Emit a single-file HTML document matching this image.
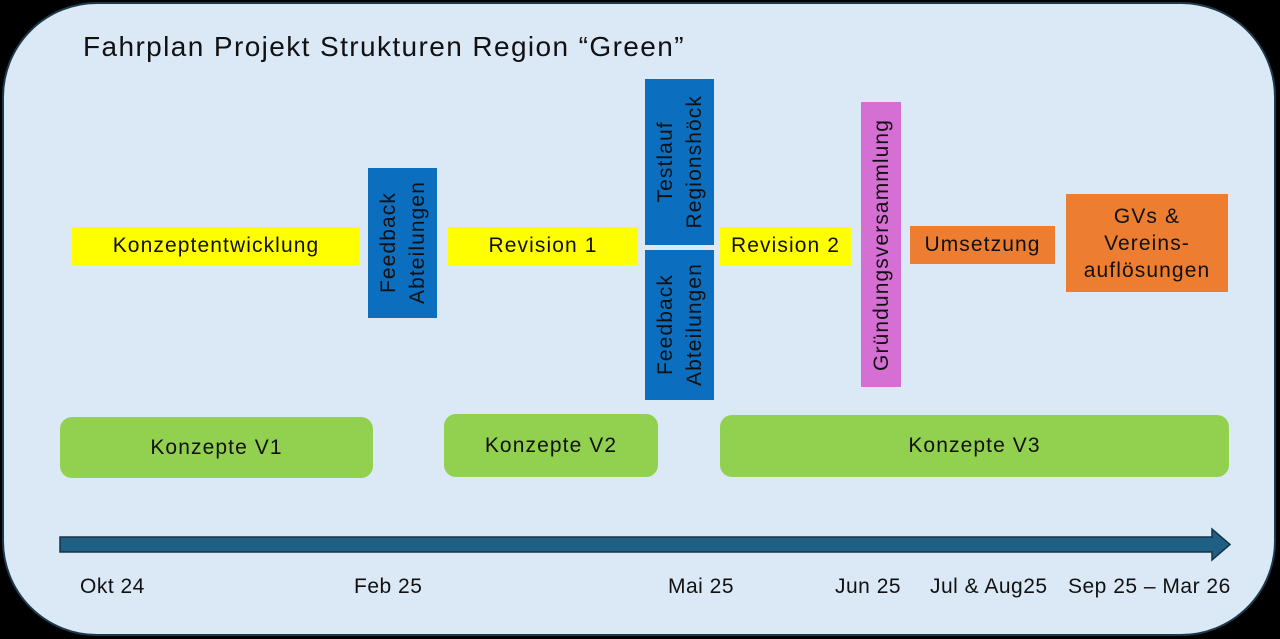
<!DOCTYPE html>
<html><head><meta charset="utf-8"><style>
body{margin:0;width:1280px;height:639px;background:#000;overflow:hidden;font-family:"Liberation Sans",sans-serif;color:#111}
.card{position:absolute;left:2px;top:2px;width:1270px;height:630px;background:#dbe8f5;border:2px solid #1d3a4d;border-radius:95px}
.a{position:absolute;display:flex;align-items:center;justify-content:center;text-align:center;font-size:21px;line-height:26px;letter-spacing:1.1px}
.y{background:#ffff00}
.b{background:#0b6ebf}
.v{writing-mode:vertical-rl;transform:rotate(180deg);line-height:29px}
.g{background:#92d050;border-radius:12px}
.o{background:#ed7d31}
.d{position:absolute;top:575px;font-size:21px;letter-spacing:0.5px}
</style></head><body>
<div class="card"></div>
<div style="position:absolute;left:83px;top:31px;font-size:28px;letter-spacing:1.4px">Fahrplan Projekt Strukturen Region “Green”</div>
<div class="a y" style="left:72px;top:227px;width:288px;height:38px">Konzeptentwicklung</div>
<div class="a b" style="left:368px;top:168px;width:69px;height:150px"><div class="v">Feedback<br>Abteilungen</div></div>
<div class="a y" style="left:448px;top:227px;width:190px;height:38px">Revision 1</div>
<div class="a b" style="left:645px;top:79px;width:69px;height:166px"><div class="v">Testlauf<br>Regionshöck</div></div>
<div class="a b" style="left:645px;top:250px;width:69px;height:150px"><div class="v">Feedback<br>Abteilungen</div></div>
<div class="a y" style="left:720px;top:227px;width:131px;height:38px">Revision 2</div>
<div class="a" style="left:861px;top:102px;width:40px;height:285px;background:#d56fd3"><div class="v">Gründungsversammlung</div></div>
<div class="a o" style="left:910px;top:226px;width:145px;height:38px">Umsetzung</div>
<div class="a o" style="left:1066px;top:194px;width:162px;height:98px;line-height:27px">GVs &amp;<br>Vereins-<br>auflösungen</div>
<div class="a g" style="left:60px;top:417px;width:313px;height:61px">Konzepte V1</div>
<div class="a g" style="left:444px;top:414px;width:214px;height:63px">Konzepte V2</div>
<div class="a g" style="left:720px;top:415px;width:509px;height:62px">Konzepte V3</div>
<svg style="position:absolute;left:0;top:0" width="1280" height="639">
<polygon points="60,537 1212,537 1212,529 1230,544.5 1212,560 1212,552 60,552" fill="#1f5f84" stroke="#12354a" stroke-width="1.5"/>
</svg>
<div class="d" style="left:80px">Okt 24</div>
<div class="d" style="left:354px">Feb 25</div>
<div class="d" style="left:668px">Mai 25</div>
<div class="d" style="left:835px">Jun 25</div>
<div class="d" style="left:930px">Jul &amp; Aug25</div>
<div class="d" style="left:1068px">Sep 25 – Mar 26</div>
</body></html>
